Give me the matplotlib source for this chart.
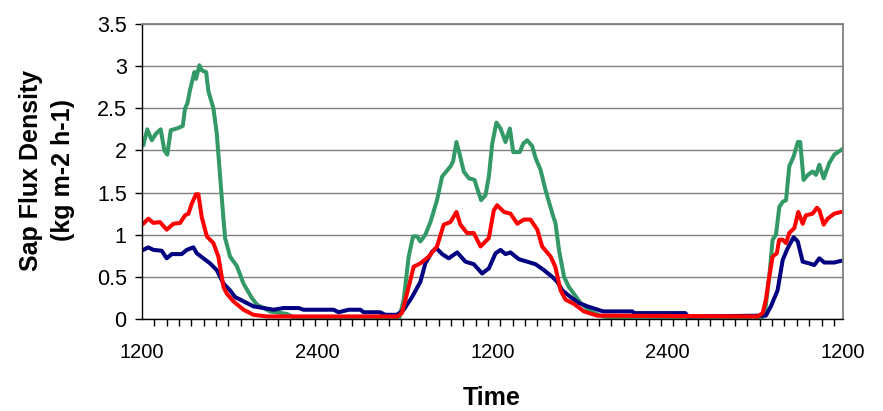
"""
Sap flux density over two days, three sensors (Excel-style line chart).
"""
import matplotlib

matplotlib.use("Agg")
import matplotlib.pyplot as plt
import numpy as np

plt.rcParams["font.family"] = ["Liberation Sans", "DejaVu Sans"]

# hours since the first 1200 reading
GREEN_T = [0.0, 0.09, 0.36, 0.67, 0.96, 1.28, 1.53, 1.73, 1.97, 2.38, 2.79, 2.95, 3.11, 3.29,
           3.59, 3.70, 3.93, 4.09, 4.39, 4.55, 4.89, 5.12, 5.35, 5.53, 5.69, 6.03, 6.49, 6.95,
           7.52, 7.87, 8.78, 9.92, 10.5, 17.6, 17.92, 18.26, 18.56, 18.84, 19.06, 19.4, 19.75,
           20.2, 20.55, 21.12, 21.3, 21.53, 21.76, 22.03, 22.38, 22.77, 22.95, 23.22, 23.52,
           23.75, 23.98, 24.27, 24.55, 24.89, 25.19, 25.42, 25.87, 26.1, 26.38, 26.72, 26.95,
           27.29, 27.63, 28.1, 28.32, 28.55, 28.9, 29.23, 29.57, 30.03, 30.72, 31.4, 32.0,
           42.4, 42.65, 42.95, 43.18, 43.41, 43.64, 43.87, 44.1, 44.32, 44.62, 44.91, 45.07,
           45.3, 45.6, 45.92, 46.15, 46.38, 46.68, 47.06, 47.4, 48.0]
GREEN_V = [2.06, 2.06, 2.25, 2.12, 2.20, 2.25, 2.00, 1.95, 2.24, 2.26, 2.29, 2.50, 2.56, 2.72,
           2.93, 2.85, 3.01, 2.95, 2.93, 2.70, 2.50, 2.20, 1.69, 1.29, 0.96, 0.74, 0.63, 0.42,
           0.25, 0.17, 0.09, 0.06, 0.01, 0.0, 0.23, 0.74, 0.98, 0.98, 0.92, 1.00, 1.15,
           1.41, 1.69, 1.81, 1.87, 2.10, 1.95, 1.75, 1.67, 1.65, 1.55, 1.41, 1.47,
           1.69, 2.08, 2.33, 2.26, 2.10, 2.26, 1.98, 1.98, 2.08, 2.12, 2.05, 1.91,
           1.77, 1.53, 1.25, 1.13, 0.82, 0.50, 0.38, 0.30, 0.19, 0.09, 0.04, 0.01,
           0.0, 0.07, 0.50, 0.94, 1.00, 1.33, 1.39, 1.41, 1.81, 1.93, 2.10, 2.10,
           1.65, 1.71, 1.75, 1.71, 1.83, 1.67, 1.85, 1.95, 2.02]

RED_T = [0.0, 0.09, 0.43, 0.78, 1.23, 1.69, 2.15, 2.61, 2.95, 3.18, 3.41, 3.70, 3.86, 4.09,
         4.44, 4.89, 5.23, 5.58, 5.81, 6.26, 6.95, 7.63, 8.55, 17.5, 17.8, 18.26, 18.6, 19.06,
         19.63, 20.2, 20.66, 21.12, 21.53, 21.8, 22.26, 22.72, 23.18, 23.75, 24.09, 24.32,
         24.78, 25.23, 25.7, 26.15, 26.6, 27.07, 27.4, 27.98, 28.3, 28.66, 29.0, 29.57,
         30.26, 31.18, 42.15, 42.5, 42.72, 42.95, 43.18, 43.47, 43.63, 43.87, 44.1, 44.32,
         44.67, 44.94, 45.24, 45.46, 45.92, 46.22, 46.38, 46.68, 46.95, 47.4, 47.86, 48.0]
RED_V = [1.13, 1.13, 1.19, 1.14, 1.15, 1.06, 1.13, 1.14, 1.23, 1.25, 1.37, 1.48, 1.48, 1.21,
         0.98, 0.90, 0.74, 0.38, 0.30, 0.21, 0.11, 0.05, 0.03, 0.03, 0.07, 0.38, 0.62, 0.66,
         0.74, 0.86, 1.12, 1.15, 1.27, 1.12, 1.02, 1.02, 0.86, 0.96, 1.29, 1.35,
         1.27, 1.25, 1.13, 1.18, 1.18, 1.06, 0.86, 0.74, 0.62, 0.34, 0.23, 0.18,
         0.09, 0.04, 0.03, 0.07, 0.23, 0.50, 0.74, 0.78, 0.94, 0.94, 0.90, 1.02,
         1.08, 1.27, 1.13, 1.23, 1.25, 1.32, 1.29, 1.12, 1.19, 1.25, 1.27, 1.27]

BLUE_T = [0.0, 0.09, 0.43, 0.78, 1.35, 1.69, 2.04, 2.72, 3.06, 3.52, 3.75, 4.20, 4.66, 5.12,
          5.58, 6.03, 6.38, 6.95, 7.63, 8.32, 9.0, 9.69, 10.72, 11.06, 13.12, 13.46, 14.15,
          14.95, 15.18, 16.3, 16.66, 17.46, 17.92, 18.49, 19.06, 19.4, 19.87, 20.16, 20.55,
          21.0, 21.58, 22.15, 22.72, 23.29, 23.75, 24.21, 24.55, 24.89, 25.23, 25.8, 26.38,
          26.95, 27.52, 28.09, 28.44, 28.78, 29.35, 29.92, 30.5, 31.4, 31.6, 33.58, 33.7,
          37.2, 37.4, 42.72, 43.06, 43.52, 43.87, 44.21, 44.62, 44.9, 45.24, 45.69, 46.03,
          46.38, 46.72, 47.4, 47.86, 48.0]
BLUE_V = [0.82, 0.82, 0.85, 0.82, 0.81, 0.72, 0.77, 0.77, 0.82, 0.85, 0.78, 0.72, 0.66, 0.58,
          0.42, 0.34, 0.26, 0.21, 0.15, 0.13, 0.11, 0.13, 0.13, 0.11, 0.11, 0.08, 0.11,
          0.11, 0.08, 0.08, 0.05, 0.05, 0.11, 0.26, 0.44, 0.66, 0.80, 0.84, 0.77,
          0.72, 0.79, 0.68, 0.65, 0.54, 0.60, 0.78, 0.82, 0.77, 0.79, 0.71, 0.68,
          0.65, 0.58, 0.50, 0.44, 0.34, 0.26, 0.19, 0.15, 0.10, 0.09, 0.09, 0.07,
          0.07, 0.03, 0.04, 0.15, 0.34, 0.70, 0.84, 0.97, 0.92, 0.68, 0.66, 0.64,
          0.72, 0.67, 0.67, 0.69, 0.69]

TICK_HOURS = [0, 12, 24, 36, 48]
TICK_LABELS = ["1200", "2400", "1200", "2400", "1200"]

fig = plt.figure(figsize=(8.83, 4.11), dpi=100)
ax = fig.add_axes([142 / 883, 1 - 319 / 411, 701 / 883, 295 / 411])

ax.plot(GREEN_T, GREEN_V, color="#339966", lw=2.9, solid_joinstyle="round")
ax.plot(BLUE_T, BLUE_V, color="#000080", lw=2.9, solid_joinstyle="round")
ax.plot(RED_T, RED_V, color="#FF0000", lw=2.9, solid_joinstyle="round")

ax.set_xlim(0, 48)
ax.set_ylim(0, 3.5)
ax.set_yticks(np.arange(0, 3.51, 0.5))
ax.set_yticklabels(["0", "0.5", "1", "1.5", "2", "2.5", "3", "3.5"])
ax.set_xticks(TICK_HOURS)
ax.set_xticklabels(TICK_LABELS)
ax.set_xticks(np.arange(0, 47.6, 0.846), minor=True)
ax.tick_params(axis="x", which="major", length=0, pad=17, labelsize=14.5)
ax.tick_params(axis="x", which="minor", length=5, width=1, direction="out", color="black")
ax.tick_params(axis="y", length=5, width=1, direction="out", pad=6, labelsize=15.5)

ax.grid(True, axis="y", color="#808080", lw=1)
ax.set_axisbelow(True)
for side in ("top", "right"):
    ax.spines[side].set_color("#808080")
    ax.spines[side].set_linewidth(1.3)
for side in ("left", "bottom"):
    ax.spines[side].set_color("black")
    ax.spines[side].set_linewidth(1)

fig.text(47 / 883, 1 - 170 / 411, "Sap Flux Density\n(kg m-2 h-1)", rotation=90,
         ha="center", va="center", multialignment="center", fontsize=18,
         fontweight="bold", linespacing=1.45)
fig.text(492 / 883, 1 - 398 / 411, "Time", ha="center", va="center",
         fontsize=18, fontweight="bold")

fig.savefig("out.png", dpi=100)
